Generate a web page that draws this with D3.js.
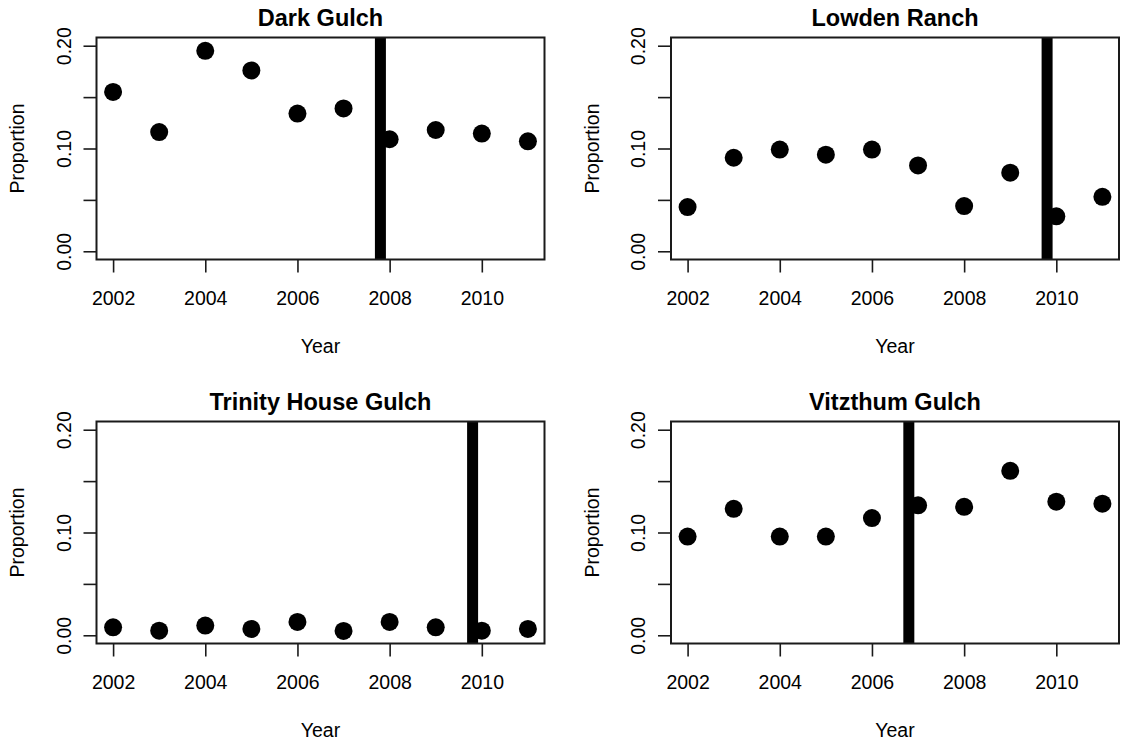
<!DOCTYPE html>
<html>
<head>
<meta charset="utf-8">
<script src="https://cdn.jsdelivr.net/npm/d3@7"></script>
<style>
  html, body { margin: 0; padding: 0; background: #fff; }
  svg { display: block; font-family: "Liberation Sans", Arial, sans-serif; }
</style>
</head>
<body>
<svg id="chart" width="1122" height="740"></svg>
<script>
// Yearly proportions per site
const years = [2002, 2003, 2004, 2005, 2006, 2007, 2008, 2009, 2010, 2011];
const siteNames = ["Dark Gulch", "Lowden Ranch", "Trinity House Gulch", "Vitzthum Gulch"];
const darkGulch         = [0.155, 0.116, 0.195, 0.176, 0.134, 0.139, 0.109, 0.118, 0.1145, 0.107];
const lowdenRanch       = [0.043, 0.091, 0.099, 0.094, 0.099, 0.0835, 0.044, 0.0765, 0.034, 0.053];
const trinityHouseGulch = [0.0078, 0.0045, 0.0094, 0.0062, 0.013, 0.0042, 0.013, 0.0078, 0.0045, 0.0062];
const vitzthumGulch     = [0.096, 0.123, 0.096, 0.096, 0.114, 0.1265, 0.125, 0.160, 0.130, 0.128];
// Year of the management change at each site (vertical marker)
const changeYear = [2007.8, 2009.8, 2009.8, 2006.8];

const xTicks = [2002, 2004, 2006, 2008, 2010];
const yTicks = [0, 0.05, 0.10, 0.15, 0.20];
const yTickLabels = ["0.00", "", "0.10", "", "0.20"];
const xTitle = "Year";
const yTitle = "Proportion";

const seriesList = [darkGulch, lowdenRanch, trinityHouseGulch, vitzthumGulch];

// Panel grid (2 x 2)
const colLeft = [96.5, 671];
const rowTop = [37.5, 421.5];
const boxW = 448, boxH = 222;
const fontSize = 19.5;

const svg = d3.select("#chart");

// R-style 4% padding around the data range
const xPad = (years[years.length - 1] - years[0]) * 0.04;
const yPad = 0.2 * 0.04;

siteNames.forEach((name, i) => {
  const left = colLeft[i % 2];
  const top = rowTop[Math.floor(i / 2)];
  const values = seriesList[i];

  const x = d3.scaleLinear()
    .domain([years[0] - xPad, years[years.length - 1] + xPad])
    .range([0, boxW]);
  const y = d3.scaleLinear()
    .domain([0 - yPad, 0.2 + yPad])
    .range([boxH, 0]);

  const g = svg.append("g").attr("transform", `translate(${left},${top})`);

  // clip for the change marker
  const clipId = "clip" + i;
  g.append("clipPath").attr("id", clipId)
    .append("rect").attr("width", boxW).attr("height", boxH);

  // change marker
  g.append("line")
    .attr("clip-path", `url(#${clipId})`)
    .attr("x1", x(changeYear[i])).attr("x2", x(changeYear[i]))
    .attr("y1", 0).attr("y2", boxH)
    .attr("stroke", "#000").attr("stroke-width", 11);

  // points
  g.selectAll("circle.pt")
    .data(years.map((yr, k) => ({ yr, v: values[k] })))
    .join("circle")
    .attr("class", "pt")
    .attr("cx", d => x(d.yr))
    .attr("cy", d => y(d.v))
    .attr("r", 9)
    .attr("fill", "#000");

  // x axis
  const xAxis = g.append("g")
    .attr("transform", `translate(0,${boxH})`)
    .call(d3.axisBottom(x).tickValues(xTicks).tickSize(13).tickPadding(19)
      .tickFormat(d3.format("d")));
  xAxis.select(".domain").remove();
  xAxis.selectAll(".tick line").attr("stroke", "#1a1a1a").attr("stroke-width", 1.6);
  xAxis.selectAll(".tick text")
    .attr("fill", "#000")
    .style("font-size", fontSize + "px")
    .style("font-family", "'Liberation Sans', Arial, sans-serif");

  // y axis with rotated labels
  const yAxis = g.append("g")
    .call(d3.axisLeft(y).tickValues(yTicks).tickSize(13)
      .tickFormat((d, k) => yTickLabels[k]));
  yAxis.select(".domain").remove();
  yAxis.selectAll(".tick line").attr("stroke", "#1a1a1a").attr("stroke-width", 1.6);
  yAxis.selectAll(".tick text")
    .attr("x", 0).attr("dy", null)
    .attr("text-anchor", "middle")
    .attr("transform", "translate(-26,0) rotate(-90)")
    .attr("fill", "#000")
    .style("font-size", fontSize + "px")
    .style("font-family", "'Liberation Sans', Arial, sans-serif");

  // plot box
  g.append("rect")
    .attr("width", boxW).attr("height", boxH)
    .attr("fill", "none").attr("stroke", "#1a1a1a").attr("stroke-width", 2);

  // title
  g.append("text")
    .attr("x", boxW / 2).attr("y", -11.5)
    .attr("text-anchor", "middle")
    .style("font-size", "23.5px").style("font-weight", "bold")
    .attr("fill", "#000")
    .text(name);

  // axis titles
  g.append("text")
    .attr("x", boxW / 2).attr("y", boxH + 93)
    .attr("text-anchor", "middle")
    .style("font-size", fontSize + "px")
    .attr("fill", "#000")
    .text(xTitle);

  g.append("text")
    .attr("transform", `translate(${24 - 96.5},${boxH / 2}) rotate(-90)`)
    .attr("text-anchor", "middle")
    .style("font-size", fontSize + "px")
    .attr("fill", "#000")
    .text(yTitle);
});
</script>
</body>
</html>
